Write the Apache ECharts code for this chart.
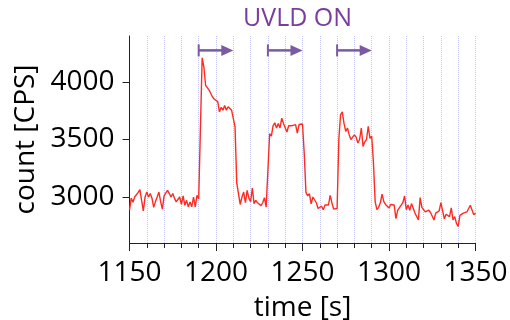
<!DOCTYPE html>
<html>
<head>
<meta charset="utf-8">
<script src="https://cdn.jsdelivr.net/npm/echarts@6/dist/echarts.min.js"></script>
<style>
html,body{margin:0;padding:0;background:#fff;}
#chart{width:510px;height:320px;}
</style>
</head>
<body>
<div id="chart"></div>
<script>
// time [s]
var times = [
1150,1151,1152,1153,1154,1155,1156,1157,1158,1159,
1160,1161,1162,1163,1164,1165,1166,1167,1168,1169,
1170,1171,1172,1173,1174,1175,1176,1177,1178,1179,
1180,1181,1182,1183,1184,1185,1186,1187,1188,1189,
1190,1191,1192,1193,1194,1195,1196,1197,1198,1199,
1200,1201,1202,1203,1204,1205,1206,1207,1208,1209,
1210,1211,1212,1213,1214,1215,1216,1217,1218,1219,
1220,1221,1222,1223,1224,1225,1226,1227,1228,1229,
1230,1231,1232,1233,1234,1235,1236,1237,1238,1239,
1240,1241,1242,1243,1244,1245,1246,1247,1248,1249,
1250,1251,1252,1253,1254,1255,1256,1257,1258,1259,
1260,1261,1262,1263,1264,1265,1266,1267,1268,1269,
1270,1271,1272,1273,1274,1275,1276,1277,1278,1279,
1280,1281,1282,1283,1284,1285,1286,1287,1288,1289,
1290,1291,1292,1293,1294,1295,1296,1297,1298,1299,
1300,1301,1302,1303,1304,1305,1306,1307,1308,1309,
1310,1311,1312,1313,1314,1315,1316,1317,1318,1319,
1320,1321,1322,1323,1324,1325,1326,1327,1328,1329,
1330,1331,1332,1333,1334,1335,1336,1337,1338,1339,
1340,1341,1342,1343,1344,1345,1346,1347,1348,1349,
1350
];
// count [CPS]
var counts = [
2885,2990,2955,3000,3015,3040,3064,2970,2880,3000,
3043,3000,3030,2990,2910,2960,3000,3043,2960,2895,
3010,3035,3058,3030,3000,3030,2990,2957,2971,3000,
2937,3010,2928,2971,2914,2957,2914,3000,2914,3014,
2986,3600,4210,4130,3970,3960,3930,3900,3870,3850,
3860,3830,3740,3780,3755,3795,3755,3785,3795,3755,
3768,3610,3120,3030,2935,3000,3043,2950,3058,2990,
2960,3078,2943,2971,2950,2935,2925,2950,2994,2913,
2928,3550,3530,3620,3645,3600,3640,3600,3685,3640,
3640,3565,3620,3610,3620,3610,3630,3555,3630,3620,
3635,3380,3040,3010,3030,2940,3000,2990,2950,2900,
2890,2920,2890,2930,2915,2930,3014,2950,2895,2905,
2900,3500,3715,3740,3640,3570,3600,3540,3500,3510,
3540,3520,3470,3500,3600,3440,3480,3500,3615,3510,
3530,3300,2960,2890,2910,2950,3025,2960,2935,2950,
2905,2935,2920,2930,2812,2884,2900,2930,2950,3010,
2890,2930,2884,2943,2940,2860,2830,2800,2995,2910,
2925,2870,2880,2885,2865,2870,2800,2860,2850,2880,
2950,2880,2810,2850,2860,2830,2905,2800,2830,2770,
2745,2840,2850,2860,2855,2870,2880,2928,2915,2845,
2860
];
// UVLD ON intervals [start, end] in s, drawn at arrowLevel
var uvldStart = [1190, 1230, 1270];
var uvldEnd = [1210, 1250, 1290];
var arrowLevel = 4275;
var yTickValues = [3000, 3500, 4000];

var chart = echarts.init(document.getElementById('chart'), null, {renderer: 'canvas'});
var FONT = 'Open Sans';
var linePts = times.map(function (t, i) { return [t, counts[i]]; });
var arrowData = uvldStart.map(function (s, i) { return [s, uvldEnd[i], arrowLevel]; });
var ARROW = '#7a5ba3';
function plain(v) { return String(v); }

var option = {
  animation: false,
  backgroundColor: '#fff',
  textStyle: {fontFamily: FONT},
  grid: {left: 129.5, right: 34.5, top: 36, bottom: 77, containLabel: false, outerBoundsMode: 'none'},
  graphic: [{
    type: 'text', left: 243, top: 6,
    style: {text: 'UVLD ON', fontSize: 25, fontFamily: FONT, fill: '#7b3d9b'}
  }],
  xAxis: {
    type: 'value', min: 1150, max: 1350, interval: 50,
    name: 'time [s]', nameLocation: 'middle', nameGap: 51,
    nameTextStyle: {fontSize: 28, color: '#000', fontFamily: FONT},
    axisLine: {show: true, onZero: false, lineStyle: {color: '#222', width: 1}},
    axisTick: {show: true, length: 8, lineStyle: {color: '#222'}},
    minorTick: {show: true, splitNumber: 5, length: 5, lineStyle: {color: '#222'}},
    axisLabel: {fontSize: 28, color: '#000', margin: 16, fontFamily: FONT, formatter: plain, hideOverlap: false},
    splitLine: {show: true, lineStyle: {color: '#c4c4f2', type: 'dotted', width: 1}},
    minorSplitLine: {show: true, lineStyle: {color: '#c4c4f2', type: 'dotted', width: 1}}
  },
  yAxis: {
    type: 'value', min: 2600, max: 4400,
    name: 'count [CPS]', nameLocation: 'middle', nameGap: 84,
    nameTextStyle: {fontSize: 28, color: '#000', fontFamily: FONT},
    axisLine: {show: true, lineStyle: {color: '#222', width: 1}},
    axisTick: {show: true, length: 7, customValues: yTickValues, lineStyle: {color: '#222'}},
    axisLabel: {fontSize: 28, color: '#000', margin: 15, customValues: yTickValues, fontFamily: FONT, formatter: plain},
    splitLine: {show: false}
  },
  series: [{
    type: 'line', data: linePts, showSymbol: false, symbol: 'none',
    lineStyle: {color: '#ff2b22', width: 1.4}, z: 3
  }, {
    type: 'custom', data: arrowData, encode: {x: [0, 1], y: 2}, z: 4,
    renderItem: function (params, api) {
      var p0 = api.coord([api.value(0), api.value(2)]);
      var p1 = api.coord([api.value(1), api.value(2)]);
      var head = 12, half = 5.5, bar = 6;
      return {
        type: 'group',
        children: [
          {type: 'line', shape: {x1: p0[0], y1: p0[1], x2: p1[0] - head + 1, y2: p1[1]},
           style: {stroke: ARROW, lineWidth: 2.5}},
          {type: 'line', shape: {x1: p0[0], y1: p0[1] - bar, x2: p0[0], y2: p0[1] + bar},
           style: {stroke: ARROW, lineWidth: 2}},
          {type: 'polygon', shape: {points: [[p1[0], p1[1]], [p1[0] - head, p1[1] - half], [p1[0] - head, p1[1] + half]]},
           style: {fill: ARROW}}
        ]
      };
    }
  }]
};
chart.setOption(option);
</script>
</body>
</html>
